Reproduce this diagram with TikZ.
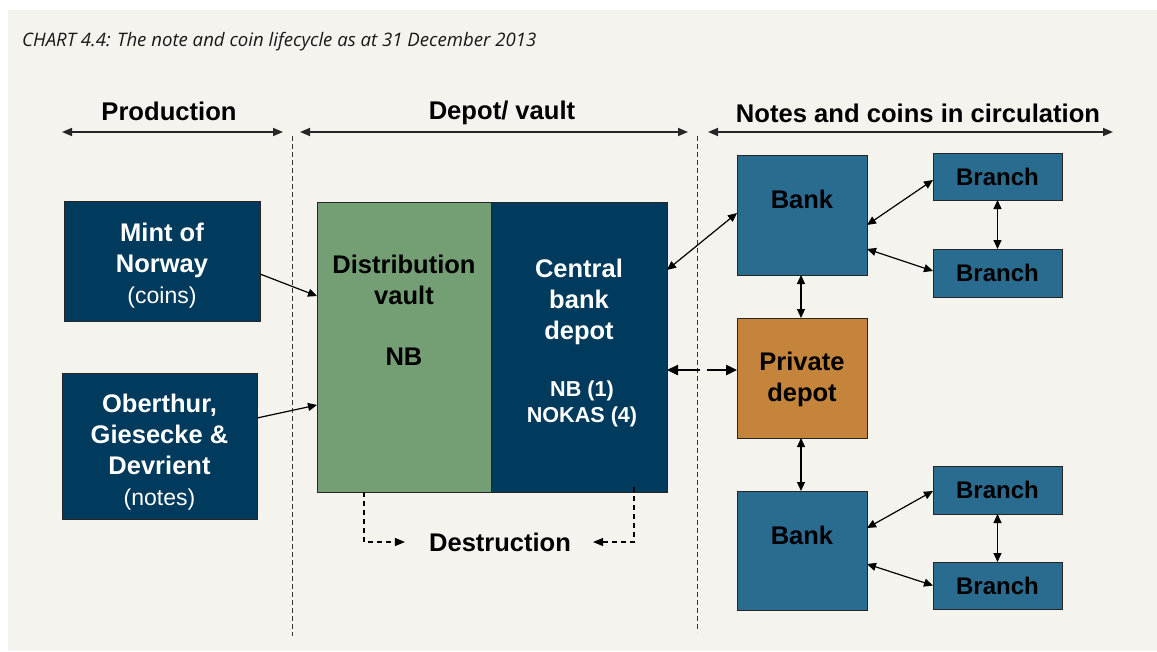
\documentclass[tikz,border=0pt]{standalone}
\usepackage{fontspec}
\setmainfont{Liberation Sans}
\newfontfamily\titlefont{Open Sans}
\usetikzlibrary{arrows.meta,calc}
\definecolor{panel}{HTML}{F5F3EE}
\definecolor{navy}{HTML}{003A5C}
\definecolor{vgreen}{HTML}{749E74}
\definecolor{teal}{HTML}{2A6C8F}
\definecolor{ochre}{HTML}{C4843C}
\begin{document}
\begin{tikzpicture}[x=1pt,y=-1pt,
  box/.style={draw=black!85, line width=0.9pt, inner sep=0pt, outer sep=0pt},
  big/.style={font=\fontsize{25.5}{31}\selectfont\bfseries, align=center, inner sep=0pt},
  branchbox/.style={box, fill=teal, font=\fontsize{24}{28}\selectfont\bfseries, minimum width=129pt},
  small/.style={font=\fontsize{21.6}{26}\selectfont\bfseries, align=center, inner sep=0pt},
  head/.style={font=\fontsize{25.6}{28}\selectfont\bfseries, inner sep=0pt},
  link/.style={line width=1.2pt, {Triangle[length=9pt,width=8pt]}-{Triangle[length=9pt,width=8pt]}},
  harrow/.style={line width=1.6pt, draw=black!85, {Triangle[length=10pt,width=8pt]}-{Triangle[length=10pt,width=8pt]}},
  thick link/.style={line width=2.4pt, -{Triangle[length=11pt,width=10pt]}},
  divider/.style={line width=1pt, draw=black!80, dash pattern=on 5pt off 3pt},
  destr/.style={line width=1.1pt, dash pattern=on 5pt off 4pt, -{Triangle[length=10pt,width=8pt]}}
]
\useasboundingbox (0,0) rectangle (1157,651);
\fill[white] (0,0) rectangle (1157,651);
\fill[panel] (8,10) rectangle (1157,651);

% title
\node[anchor=west, inner sep=0pt, text=black!90, font=\titlefont\itshape\fontsize{18.6}{22}\selectfont] (title) at (22,42) {CHART 4.4: The note and coin lifecycle as at 31 December 2013};

% headers
\node[head] (hprod) at (169,111) {Production};
\node[head] (hdepot) at (502,113) {Depot/ vault};
\node[head] (hcirc) at (918,113) {Notes and coins in circulation};
\coordinate (pa) at (62,132);  \coordinate (pb) at (283,132);
\coordinate (da) at (300,132); \coordinate (db) at (688,132);
\coordinate (ca) at (708,132); \coordinate (cb) at (1113,132);
\draw[harrow] (pa) -- (pb);
\draw[harrow] (da) -- (db);
\draw[harrow] (ca) -- (cb);

% dividers
\coordinate (v1a) at (292,136); \coordinate (v1b) at (292,636);
\coordinate (v2a) at (697,136); \coordinate (v2b) at (697,632);
\draw[divider] (v1a) -- (v1b);
\draw[divider] (v2a) -- (v2b);

% production boxes
\node[box, fill=navy, minimum width=196pt, minimum height=120pt] (mint) at (162,261) {};
\node[big, text=white] (minttxt) at (162,265.5) {Mint of\\Norway\\{\fontsize{23}{31}\selectfont\mdseries (coins)}};
\node[box, fill=navy, minimum width=195pt, minimum height=146pt] (ober) at (159.5,446) {};
\node[big, text=white] (obertxt) at (159.5,452.5) {Oberthur,\\Giesecke \&\\Devrient\\{\fontsize{23}{31}\selectfont\mdseries (notes)}};

% depot boxes
\node[box, fill=vgreen, minimum width=174pt, minimum height=290pt] (dist) at (404,347) {};
\node[box, fill=navy, minimum width=176pt, minimum height=290pt] (cbd) at (579,347) {};
\node[big, text=black] (disttxt) at (404,310.5) {Distribution\\vault\\[30pt]NB};
\node[big, text=white] (cbdtxt) at (579,302) {Central\\bank\\depot};
\node[small, text=white] (cbdsub) at (582,404) {NB (1)\\NOKAS (4)};

% circulation boxes
\node[box, fill=teal, minimum width=130pt, minimum height=120pt] (bank1) at (802,215) {};
\node[big] (bank1txt) at (802,199) {Bank};
\node[box, fill=ochre, minimum width=130pt, minimum height=120pt] (priv) at (802,378) {};
\node[big] (privtxt) at (802,379) {Private\\depot};
\node[box, fill=teal, minimum width=130pt, minimum height=119pt] (bank2) at (802,550.5) {};
\node[big] (bank2txt) at (802,535) {Bank};
\node[branchbox, minimum height=47pt] (br1) at (997.5,176.5) {Branch};
\node[branchbox, minimum height=48pt] (br2) at (997.5,273) {Branch};
\node[branchbox, minimum height=48pt] (br3) at (997.5,490) {Branch};
\node[branchbox, minimum height=47pt] (br4) at (997.5,585.5) {Branch};

% destruction
\node[big] (destr) at (500,542) {Destruction};
\draw[destr] ([xshift=-40pt]dist.south) |- ([xshift=-24pt]destr.west);
\draw[destr] ([xshift=55pt,yshift=5pt]cbd.south) |- ([xshift=22pt]destr.east);

% production arrows
\draw[line width=1.2pt, -{Triangle[length=9pt,width=8pt]}] ([yshift=-13pt]mint.east) -- ([yshift=51pt]dist.west);
\draw[line width=1.2pt, -{Triangle[length=9pt,width=8pt]}] ([yshift=28pt]ober.east) -- ([yshift=-58pt]dist.west);

% central links
\draw[link] ([yshift=77pt]cbd.east) -- ([yshift=2pt]bank1.west);
\coordinate (gl) at (700,370);
\coordinate (gr) at (707,370);
\draw[thick link] (gl) -- ([yshift=-23pt]cbd.east);
\draw[thick link] (gr) -- ([yshift=8pt]priv.west);

% circulation links
\draw[link] ([yshift=-10pt]bank1.east) -- ([yshift=-3.5pt]br1.west);
\draw[link] ([yshift=-34pt]bank1.east) -- ([yshift=2pt]br2.west);
\draw[link] (br1.south) -- (br2.north);
\draw[link] ([xshift=-1pt]bank1.south) -- ([xshift=-1pt]priv.north);
\draw[link] ([xshift=-1pt]priv.south) -- ([xshift=-1pt]bank2.north);
\draw[link] ([yshift=22.5pt]bank2.east) -- ([yshift=-1pt]br3.west);
\draw[link] ([yshift=-13.5pt]bank2.east) -- (br4.west);
\draw[link] (br3.south) -- (br4.north);
\end{tikzpicture}
\end{document}
